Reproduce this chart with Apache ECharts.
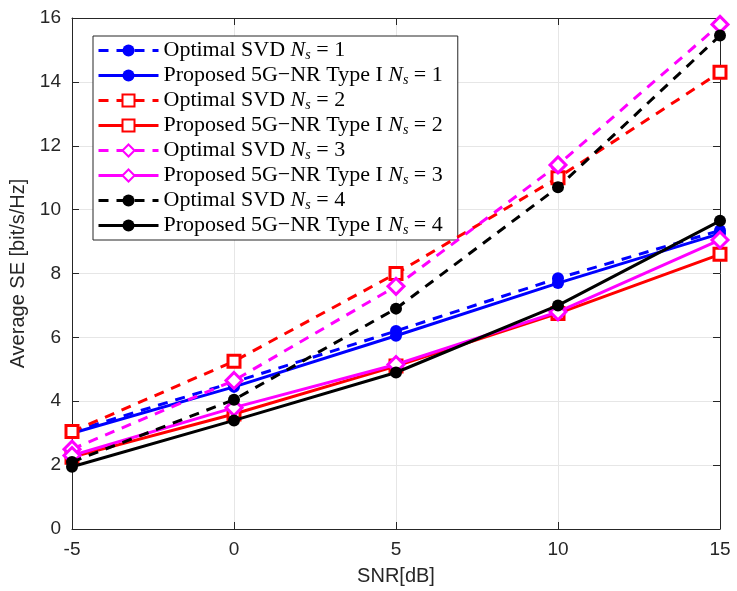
<!DOCTYPE html>
<html>
<head>
<meta charset="utf-8">
<script src="https://cdn.jsdelivr.net/npm/echarts@6/dist/echarts.min.js"></script>
<style>html,body{margin:0;padding:0;background:#fff;}#c{width:737px;height:591px;}</style>
</head>
<body>
<div id="c"></div>
<script>
const snr = [-5, 0, 5, 10, 15];
const xTicks = [-5, 0, 5, 10, 15];
const yTicks = [0, 2, 4, 6, 8, 10, 12, 14, 16];

const optNs1 = [3.05, 4.6, 6.2, 7.85, 9.35];
const propNs1 = [3.0, 4.45, 6.05, 7.7, 9.25];
const optNs2 = [3.05, 5.25, 8.0, 11.0, 14.3];
const propNs2 = [2.25, 3.6, 5.1, 6.75, 8.6];
const optNs3 = [2.5, 4.65, 7.6, 11.4, 15.8];
const propNs3 = [2.3, 3.8, 5.15, 6.8, 9.05];
const optNs4 = [2.1, 4.05, 6.9, 10.7, 15.45];
const propNs4 = [1.95, 3.4, 4.9, 7.0, 9.65];

const names = [
  'Optimal SVD |1', 'Proposed 5G\u2212NR Type I |1',
  'Optimal SVD |2', 'Proposed 5G\u2212NR Type I |2',
  'Optimal SVD |3', 'Proposed 5G\u2212NR Type I |3',
  'Optimal SVD |4', 'Proposed 5G\u2212NR Type I |4'
];
const datas = [optNs1, propNs1, optNs2, propNs2, optNs3, propNs3, optNs4, propNs4];
const colors = ['#0000ff', '#0000ff', '#ff0000', '#ff0000', '#ff00ff', '#ff00ff', '#000000', '#000000'];
const dashed = [true, false, true, false, true, false, true, false];
const symbols = ['circle', 'circle', 'rect', 'rect', 'diamond', 'diamond', 'circle', 'circle'];
const hollow = [false, false, true, true, true, true, false, false];
const sizes = [12, 12, 12, 12, 16, 16, 12, 12];

const series = datas.map((d, i) => ({
  name: names[i],
  type: 'line',
  data: snr.map((x, k) => [x, d[k]]),
  symbol: symbols[i],
  symbolSize: sizes[i],
  showSymbol: true,
  lineStyle: { color: colors[i], width: 3, type: dashed[i] ? [10, 8] : 'solid' },
  itemStyle: hollow[i]
    ? { color: '#ffffff', borderColor: colors[i], borderWidth: 3 }
    : { color: colors[i], borderColor: colors[i], borderWidth: 0 },
  z: 2 + i
}));

const chart = echarts.init(document.getElementById('c'), null, { renderer: 'canvas' });
const tickTxt = { color: '#262626', fontFamily: 'Liberation Sans, Arial, sans-serif', fontSize: 19 };
const nameTxt = { color: '#262626', fontFamily: 'Liberation Sans, Arial, sans-serif', fontSize: 20 };
chart.setOption({
  animation: false,
  backgroundColor: '#ffffff',
  grid: { left: 72, right: 17, top: 18, bottom: 61, show: false },
  xAxis: [{
    type: 'value', min: -5, max: 15, interval: 5,
    name: 'SNR[dB]', nameLocation: 'middle', nameGap: 37,
    nameTextStyle: nameTxt,
    axisLine: { show: true, onZero: false, lineStyle: { color: '#262626', width: 1 } },
    axisTick: { show: true, inside: true, length: 7, lineStyle: { color: '#262626' } },
    axisLabel: Object.assign({ margin: 11, formatter: v => xTicks.includes(v) ? String(v) : '' }, tickTxt),
    splitLine: { show: true, lineStyle: { color: '#e6e6e6', width: 1 } }
  }, {
    type: 'value', min: -5, max: 15, interval: 5, position: 'top',
    axisLine: { show: true, onZero: false, lineStyle: { color: '#262626', width: 1 } },
    axisTick: { show: true, inside: true, length: 7, lineStyle: { color: '#262626' } },
    axisLabel: { show: false }, splitLine: { show: false }
  }],
  yAxis: [{
    type: 'value', min: 0, max: 16, interval: 2,
    name: 'Average SE [bit/s/Hz]', nameLocation: 'middle', nameGap: 31,
    nameTextStyle: nameTxt,
    axisLine: { show: true, onZero: false, lineStyle: { color: '#262626', width: 1 } },
    axisTick: { show: true, inside: true, length: 7, lineStyle: { color: '#262626' } },
    axisLabel: Object.assign({ margin: 11, formatter: v => yTicks.includes(v) ? String(v) : '' }, tickTxt),
    splitLine: { show: true, lineStyle: { color: '#e6e6e6', width: 1 } }
  }, {
    type: 'value', min: 0, max: 16, interval: 2, position: 'right',
    axisLine: { show: true, onZero: false, lineStyle: { color: '#262626', width: 1 } },
    axisTick: { show: true, inside: true, length: 7, lineStyle: { color: '#262626' } },
    axisLabel: { show: false }, splitLine: { show: false }
  }],
  legend: {
    orient: 'vertical', left: 93, top: 36,
    backgroundColor: '#ffffff', borderColor: '#262626', borderWidth: 1, borderRadius: 0,
    padding: [2, 15, 2, 4],
    itemWidth: 60, itemHeight: 15, itemGap: 0,
    lineStyle: { width: 3 },
    data: names,
    formatter: n => {
      const p = n.split('|');
      return p[0] + '{n|N}{s|s}{t| = ' + p[1] + '}';
    },
    textStyle: {
      fontFamily: 'Liberation Serif, Times New Roman, serif', fontSize: 22, color: '#000', lineHeight: 25,
      rich: {
        n: { fontFamily: 'Liberation Serif, serif', fontStyle: 'italic', fontSize: 22, color: '#000', lineHeight: 25 },
        s: { fontFamily: 'Liberation Serif, serif', fontStyle: 'italic', fontSize: 14, color: '#000', padding: [9, 0, 0, 0] },
        t: { fontFamily: 'Liberation Serif, serif', fontSize: 22, color: '#000', lineHeight: 25 }
      }
    }
  },
  series: series
});
</script>
</body>
</html>
